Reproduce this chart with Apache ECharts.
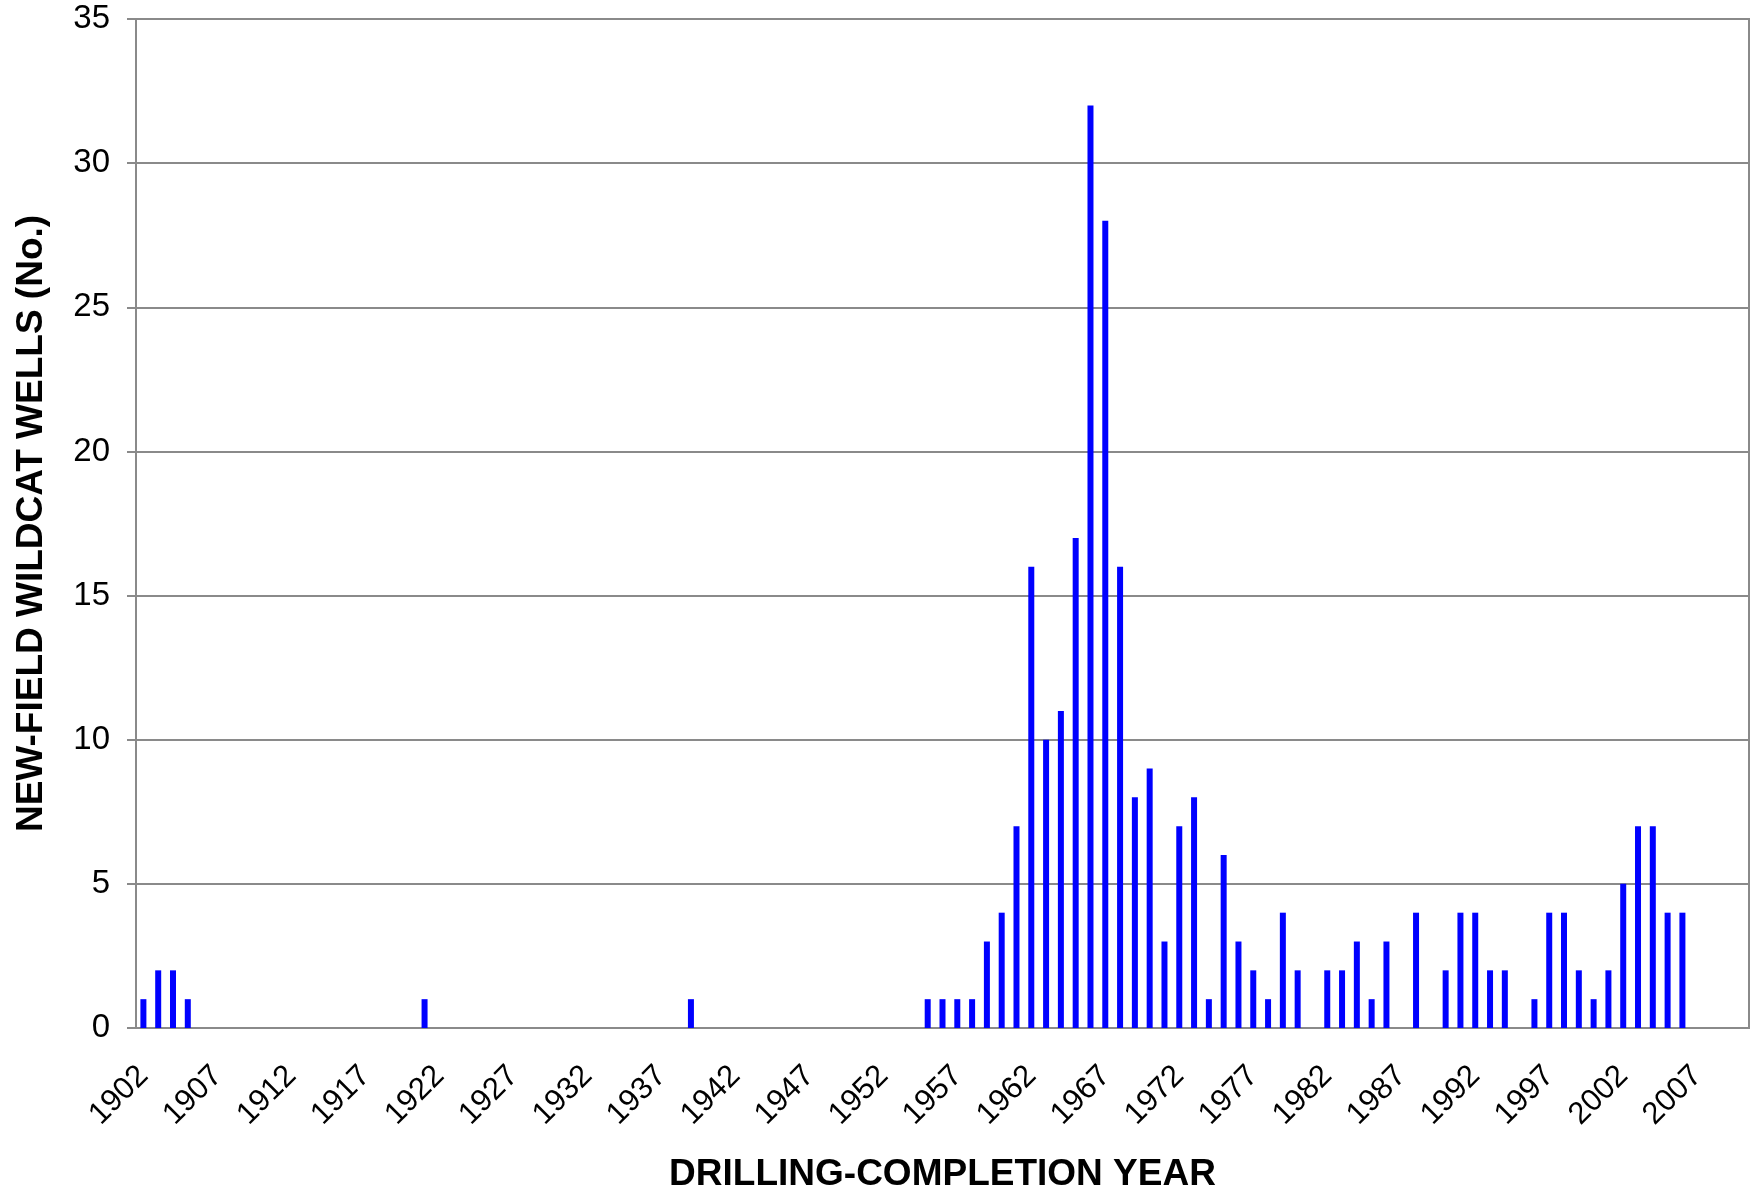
<!DOCTYPE html>
<html>
<head>
<meta charset="utf-8">
<script src="https://cdn.jsdelivr.net/npm/echarts@6/dist/echarts.min.js"></script>
<style>
  html, body { margin: 0; padding: 0; background: #fff; }
  #chart { width: 1754px; height: 1201px; }
</style>
</head>
<body>
<div id="chart"></div>
<script>
  // 年份（类目）
  const years = [
    '1902', '1903', '1904', '1905', '1906', '1907', '1908', '1909',
    '1910', '1911', '1912', '1913', '1914', '1915', '1916', '1917', '1918', '1919',
    '1920', '1921', '1922', '1923', '1924', '1925', '1926', '1927', '1928', '1929',
    '1930', '1931', '1932', '1933', '1934', '1935', '1936', '1937', '1938', '1939',
    '1940', '1941', '1942', '1943', '1944', '1945', '1946', '1947', '1948', '1949',
    '1950', '1951', '1952', '1953', '1954', '1955', '1956', '1957', '1958', '1959',
    '1960', '1961', '1962', '1963', '1964', '1965', '1966', '1967', '1968', '1969',
    '1970', '1971', '1972', '1973', '1974', '1975', '1976', '1977', '1978', '1979',
    '1980', '1981', '1982', '1983', '1984', '1985', '1986', '1987', '1988', '1989',
    '1990', '1991', '1992', '1993', '1994', '1995', '1996', '1997', '1998', '1999',
    '2000', '2001', '2002', '2003', '2004', '2005', '2006', '2007', '2008', '2009',
    '2010'
  ];

  // 每年新油田探井数
  const wells = [
    1, 2, 2, 1, 0, 0, 0, 0,
    0, 0, 0, 0, 0, 0, 0, 0, 0, 0,
    0, 1, 0, 0, 0, 0, 0, 0, 0, 0,
    0, 0, 0, 0, 0, 0, 0, 0, 0, 1,
    0, 0, 0, 0, 0, 0, 0, 0, 0, 0,
    0, 0, 0, 0, 0, 1, 1, 1, 1, 3,
    4, 7, 16, 10, 11, 17, 32, 28, 16, 8,
    9, 3, 7, 8, 1, 6, 3, 2, 1, 4,
    2, 0, 2, 2, 3, 1, 3, 0, 4, 0,
    2, 4, 4, 2, 2, 0, 1, 4, 4, 2,
    1, 2, 5, 7, 7, 4, 4, 0, 0, 0,
    0
  ];

  const yTicks = [0, 5, 10, 15, 20, 25, 30, 35];

  const font = 'Liberation Sans, Arial, sans-serif';
  const gray = '#8a8a8a';

  const chart = echarts.init(document.getElementById('chart'));
  chart.setOption({
    animation: false,
    backgroundColor: '#fff',
    grid: {
      left: 136,
      right: 5,
      top: 19,
      bottom: 173,
      show: true,
      borderColor: gray,
      borderWidth: 2
    },
    xAxis: [
      {
        type: 'category',
        data: years,
        name: 'DRILLING-COMPLETION YEAR',
        nameLocation: 'middle',
        nameGap: 128,
        nameTextStyle: {
          fontFamily: font,
          fontSize: 37,
          fontWeight: 'bold',
          color: '#000'
        },
        axisLine: { lineStyle: { color: gray, width: 2 } },
        axisTick: {
          interval: 0,
          length: 10,
          lineStyle: { color: gray, width: 2 }
        },
        axisLabel: {
          interval: 4,
          rotate: 45,
          margin: 43,
          fontFamily: font,
          fontSize: 31,
          color: '#000'
        },
        splitLine: { show: false }
      },
      {
        // 类目中心的内侧小刻度
        type: 'category',
        data: years,
        position: 'bottom',
        z: 5,
        axisLine: { show: false },
        axisTick: {
          inside: true,
          alignWithLabel: true,
          interval: 0,
          length: 6,
          lineStyle: { color: gray, width: 2 }
        },
        axisLabel: { show: false },
        splitLine: { show: false }
      }
    ],
    yAxis: {
      type: 'value',
      min: yTicks[0],
      max: yTicks[yTicks.length - 1],
      interval: 5,
      name: 'NEW-FIELD WILDCAT WELLS (No.)',
      nameLocation: 'middle',
      nameGap: 86,
      nameTextStyle: {
        fontFamily: font,
        fontSize: 37,
        fontWeight: 'bold',
        color: '#000'
      },
      axisLine: { show: true, lineStyle: { color: gray, width: 2 } },
      axisTick: { show: true, length: 9, lineStyle: { color: gray, width: 2 } },
      axisLabel: {
        margin: 26,
        fontFamily: font,
        fontSize: 33,
        color: '#000'
      },
      splitLine: { lineStyle: { color: gray, width: 2 } }
    },
    series: [
      {
        type: 'bar',
        xAxisIndex: 0,
        data: wells,
        barWidth: 6,
        itemStyle: { color: '#0000ff' }
      }
    ]
  });
</script>
</body>
</html>
